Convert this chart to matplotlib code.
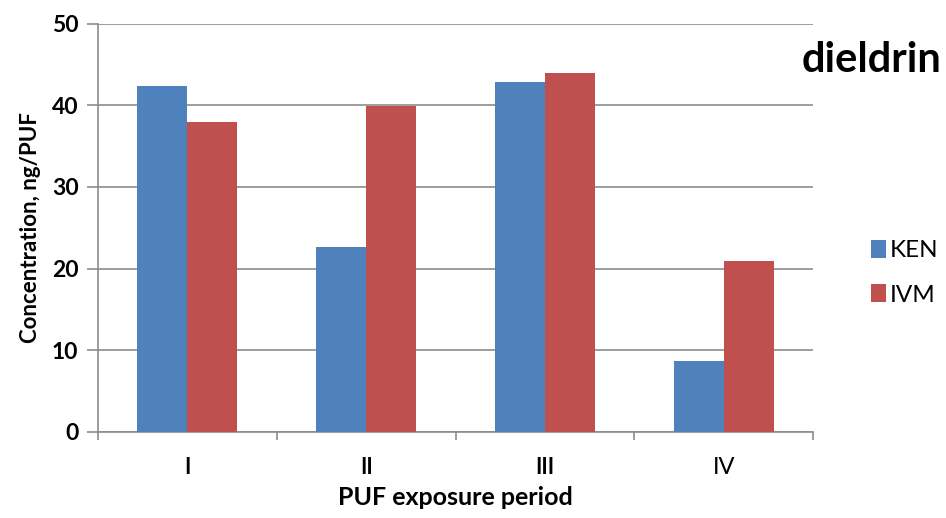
import numpy as np
import matplotlib.pyplot as plt

periods = ['I', 'II', 'III', 'IV']
ken = [42.3, 22.7, 42.9, 8.7]
ivm = [38.0, 39.9, 44.0, 20.9]

blue = '#4f81bd'
red = '#c0504d'
grid_c = '#8c8c8c'

plt.rcParams['font.family'] = ['Lato', 'DejaVu Sans']

fig = plt.figure(figsize=(9.46, 5.18), dpi=100)
ax = fig.add_axes([98 / 946, 1 - 432 / 518, 715 / 946, 408.5 / 518])

x = np.arange(len(periods))
w = 0.28
ax.bar(x - w / 2, ken, w, color=blue, label='KEN', zorder=3)
ax.bar(x + w / 2, ivm, w, color=red, label='IVM', zorder=3)

ax.set_xlim(-0.5, len(periods) - 0.5)
ax.set_ylim(0, 50)
ax.set_yticks(np.arange(0, 51, 10))
ax.yaxis.grid(True, color=grid_c, linewidth=1.2, zorder=0)
ax.set_axisbelow(True)

for s in ['top', 'right']:
    ax.spines[s].set_visible(False)
for s in ['left', 'bottom']:
    ax.spines[s].set_color(grid_c)
    ax.spines[s].set_linewidth(1.2)

# category labels sit between the boundary ticks
ax.set_xticks(np.arange(-0.5, len(periods), 1.0))
ax.set_xticklabels([])
ax.tick_params(axis='x', length=6, color=grid_c, width=1.2)
ax.set_xticks(x, minor=True)
ax.set_xticklabels(periods, minor=True)
ax.tick_params(axis='x', which='minor', length=0, pad=18, labelsize=15.5)
for lab in ax.get_xticklabels(minor=True):
    if lab.get_text() == 'IV':
        lab.set_fontsize(17)
    else:
        lab.set_fontweight('bold')

ax.tick_params(axis='y', length=8, color=grid_c, width=1.2, labelsize=16.5, pad=6)
for lab in ax.get_yticklabels():
    lab.set_fontweight('bold')

ax.set_ylabel('Concentration, ng/PUF', fontsize=16, fontweight='bold', labelpad=8)
ax.set_xlabel('PUF exposure period', fontsize=18, fontweight='bold', labelpad=6)

fig.text(0.995, 1 - 60 / 518, 'dieldrin', ha='right', va='center',
         fontsize=30, fontweight='bold')

ax.legend(loc='center left', bbox_to_anchor=(1.05, 0.39), frameon=False,
          fontsize=17.5, handlelength=0.65, handleheight=0.75, handletextpad=0.15,
          labelspacing=0.95)

fig.savefig('out.png', dpi=100)
